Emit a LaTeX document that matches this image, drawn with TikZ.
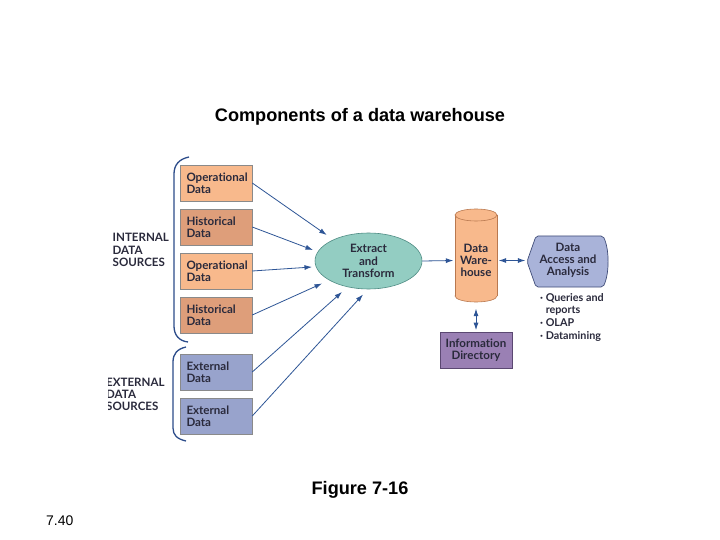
\documentclass[tikz,border=0pt]{standalone}
\usepackage{fontspec}
\setmainfont{Liberation Sans}
\newfontfamily\dfont{Lato}[Ligatures=NoCommon]
\usetikzlibrary{arrows.meta,shapes.geometric}
\definecolor{opc}{HTML}{F8B98C}
\definecolor{hic}{HTML}{DE9E7A}
\definecolor{exc}{HTML}{98A3CC}
\definecolor{boxb}{HTML}{8A8A8A}
\definecolor{txt}{HTML}{2A2A3C}
\definecolor{etc}{HTML}{93CDC2}
\definecolor{etb}{HTML}{4F8C84}
\definecolor{cylc}{HTML}{F8B98C}
\definecolor{cylb}{HTML}{B9784F}
\definecolor{dac}{HTML}{A9B3D9}
\definecolor{dab}{HTML}{3F4C78}
\definecolor{infc}{HTML}{9A80B4}
\definecolor{infb}{HTML}{5B4872}
\definecolor{arrc}{HTML}{2E5596}
\definecolor{brc}{HTML}{2C4C8A}
\begin{document}
\begin{tikzpicture}[x=1bp,y=-1bp,
  dtext/.style={font=\dfont\bfseries\fontsize{11.6}{12.3}\selectfont, text=txt},
  srcbox/.style={dtext, draw=boxb, line width=0.5bp, minimum width=72bp, minimum height=36bp,
    text width=59bp, align=left, inner xsep=6.5bp, inner ysep=0bp},
  arr/.style={draw=arrc, line width=0.8bp, -{Latex[length=7.5bp,width=5bp]}},
  darr/.style={draw=arrc, line width=0.8bp, {Latex[length=7.5bp,width=5bp]}-{Latex[length=7.5bp,width=5bp]}},
  brace/.style={draw=brc, line width=1.3bp},
  lbl/.style={dtext, align=left, inner sep=0pt, anchor=west}
]
\useasboundingbox (0,0) rectangle (720,540);
\fill[white] (0,0) rectangle (720,540);

% titles
\node[font=\bfseries\fontsize{18.2}{21}\selectfont] (title) at (360,117) {Components of a data warehouse};
\node[font=\bfseries\fontsize{18.2}{21}\selectfont] (fig) at (360,490) {Figure 7-16};
\node[font=\fontsize{14}{16}\selectfont, anchor=west, inner sep=0pt] (pg) at (46,521) {7.40};

% source boxes
\node[srcbox, fill=opc] (s1) at (216,183) {Operational\\Data};
\node[srcbox, fill=hic] (s2) at (216,227) {Historical\\Data};
\node[srcbox, fill=opc] (s3) at (216,271) {Operational\\Data};
\node[srcbox, fill=hic] (s4) at (216,315) {Historical\\Data};
\node[srcbox, fill=exc] (s5) at (216,372) {External\\Data};
\node[srcbox, fill=exc] (s6) at (216,416) {External\\Data};

% braces
\draw[brace] (189,157) .. controls (179,159) and (174,165) .. (174,174) -- (174,326) .. controls (174,335) and (179,341) .. (188,342);
\draw[brace] (186,347) .. controls (177,349) and (173,354) .. (173,362) -- (173,428) .. controls (173,435) and (177,439) .. (186,441);

% side labels
\node[lbl] (intl) at (112.5,250) {INTERNAL\\DATA\\SOURCES};
\begin{scope}
\clip (108,360) rectangle (175,420);
\node[lbl] (extl) at (106,394.5) {EXTERNAL\\DATA\\SOURCES};
\end{scope}

% extract and transform
\node[ellipse, draw=etb, fill=etc, line width=0.6bp, minimum width=107bp, minimum height=56bp,
  dtext, align=center, inner sep=0pt] (et) at (368.5,261) {Extract\\and\\Transform};

% data warehouse cylinder
\filldraw[fill=cylc, draw=cylb, line width=0.6bp] (476,296) ellipse[x radius=21, y radius=6];
\fill[cylc] (455,215) rectangle (497,296);
\draw[cylb, line width=0.6bp] (455,215) -- (455,296) (497,215) -- (497,296);
\filldraw[fill=cylc, draw=cylb, line width=0.6bp] (476,215) ellipse[x radius=21, y radius=6];
\node[dtext, align=center, minimum width=42bp, minimum height=93bp, inner sep=0pt] (dw) at (476,260.5) {Data\\Ware-\\house};

% data access shape
\filldraw[fill=dac, draw=dab, line width=0.7bp, rounded corners=2bp]
  (536,236) -- (603,236) .. controls (609.5,249) and (609.5,274) .. (603,287) -- (536,287) -- (527,261.5) -- cycle;
\node[dtext, align=center, minimum width=82bp, minimum height=51bp, inner sep=0pt] (da) at (568,260.5) {Data\\Access and\\Analysis};

% bullets
\node[lbl, font=\dfont\bfseries\fontsize{10.8}{12.7}\selectfont] (bul) at (540,317)
  {\textperiodcentered\ Queries and\\\phantom{\textperiodcentered\ }reports\\\textperiodcentered\ OLAP\\\textperiodcentered\ Datamining};

% information directory
\node[draw=infb, fill=infc, line width=0.7bp, minimum width=72bp, minimum height=36bp,
  dtext, align=center, inner sep=0pt] (inf) at (476,350) {Information\\Directory};

% arrow tips on the ellipse
\coordinate (t1) at (326.7,235);
\coordinate (t2) at (313,250);
\coordinate (t3) at (312,267);
\coordinate (t4) at (322,283.5);
\coordinate (t5) at (342,292);
\coordinate (t6) at (363,294.5);

\draw[arr] (s1.east) -- (t1);
\draw[arr] (s2.east) -- (t2);
\draw[arr] (s3.east) -- (t3);
\draw[arr] (s4.east) -- (t4);
\draw[arr] (s5.east) -- (t5);
\draw[arr] (s6.east) -- (t6);

\draw[arr, shorten >=1.5bp] (et.east) -- (dw.west);
\draw[darr, shorten <=1.5bp, shorten >=1.5bp] (dw.east) -- (da.west);
\draw[darr, shorten <=1.5bp, shorten >=1.5bp] (dw.south) -- (inf.north);
\end{tikzpicture}
\end{document}
